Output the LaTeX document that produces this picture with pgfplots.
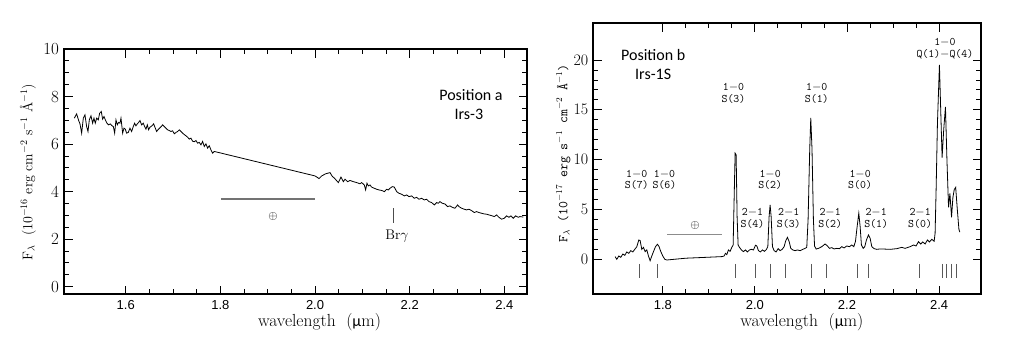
\documentclass[border=0pt]{standalone}
\usepackage{fontspec}
\usepackage{pgfplots}
\pgfplotsset{compat=1.18}
\newfontfamily\carlito{Carlito}
\newfontfamily\tsans{Liberation Sans}
\newcommand\fs[1]{\fontsize{#1}{#1}\selectfont}

\pgfplotsset{
  spec/.style={
    scale only axis, anchor=south west,
    axis line style={line width=2.2pt},
    tick align=inside,
    major tick length=8.5pt, minor tick length=5pt,
    every tick/.style={black, line width=0.9pt},
    minor x tick num=3,
    xticklabel style={font=\tsans\fs{13}, yshift=-3pt},
    yticklabel style={xshift=-1.5pt},
    xlabel={\fs{17.5}wavelength\ \ ({\carlito\fs{16}µ}m)},
    xlabel style={anchor=center},
    ylabel style={anchor=center},
  },
}

\begin{document}
\begin{tikzpicture}[x=1pt,y=1pt]
\path[use as bounding box] (0,0) rectangle (1009,354);

% ---- position a ----
\begin{axis}[spec, at={(64pt,60pt)}, width=463pt, height=245pt,
    xmin=1.4696, xmax=2.4478, ymin=-0.307, ymax=10,
    xtick={1.6,1.8,2.0,2.2,2.4}, xticklabels={1.6,1.8,2.0,2.2,2.4},
    ytick={0,2,4,6,8,10}, minor y tick num=3,
    yticklabels={\fs{17}0,\fs{17}2,\fs{17}4,\fs{17}6,\fs{17}8,\fs{17}10},
    xlabel style={at={(axis description cs:0.552,-0.114)}},
    ylabel={\fs{14}F$_\lambda$\ \ (10$^{-16}$ erg cm$^{-2}$ s$^{-1}$ Å$^{-1}$)},
    ylabel style={at={(axis description cs:-0.078,0.498)}},
  ]
\addplot[black, line width=0.8pt] coordinates {
(1.4914,7.09) (1.4963,7.27) (1.5006,6.99) (1.5034,6.85) (1.5069,6.46) (1.5104,7.09)
(1.5139,7.23) (1.5174,6.74) (1.5203,6.53) (1.5231,7.02) (1.5266,7.19) (1.5301,6.88)
(1.5329,7.09) (1.5357,6.88) (1.5386,7.09) (1.5421,7.02) (1.5449,7.30) (1.5484,7.37)
(1.5512,7.05) (1.5541,7.16) (1.5569,7.02) (1.5604,6.88) (1.5639,6.81) (1.5674,6.85)
(1.5710,6.77) (1.5738,6.74) (1.5766,6.46) (1.5794,7.02) (1.5822,6.81) (1.5850,6.91)
(1.5878,6.88) (1.5900,7.09) (1.5935,6.46) (1.5963,6.67) (1.5991,6.63) (1.6019,6.46)
(1.6054,6.49) (1.6090,6.67) (1.6125,6.53) (1.6160,6.74) (1.6188,6.88) (1.6216,6.77)
(1.6245,6.85) (1.6273,6.91) (1.6301,6.99) (1.6336,6.81) (1.6371,6.88) (1.6399,6.74)
(1.6428,6.63) (1.6456,6.81) (1.6484,6.60) (1.6512,6.71) (1.6554,6.77) (1.6590,6.85)
(1.6625,6.67) (1.6653,6.53) (1.6681,6.60) (1.6716,6.67) (1.6751,6.74) (1.6780,6.81)
(1.6815,6.74) (1.6850,6.67) (1.6885,6.60) (1.6920,6.57) (1.6956,6.53) (1.6991,6.56)
(1.7026,6.43) (1.7061,6.49) (1.7096,6.53) (1.7132,6.60) (1.7167,6.53) (1.7202,6.46)
(1.7237,6.40) (1.7272,6.35) (1.7308,6.29) (1.7343,6.21) (1.7378,6.25) (1.7413,6.12)
(1.7448,6.10) (1.7484,6.15) (1.7519,6.04) (1.7554,6.07) (1.7589,5.97) (1.7624,6.11)
(1.7660,5.90) (1.7695,6.01) (1.7730,5.83) (1.7765,5.93) (1.7800,5.76) (1.7835,5.62)
(1.7871,5.69)
(2.0000,4.66) (2.0084,4.55) (2.0140,4.66) (2.0224,4.75) (2.0316,4.80) (2.0365,4.64)
(2.0408,4.57) (2.0492,4.38) (2.0548,4.61) (2.0598,4.42) (2.0633,4.52) (2.0689,4.42)
(2.0738,4.47) (2.0809,4.42) (2.0879,4.38) (2.0950,4.33) (2.0985,4.38) (2.1041,4.28)
(2.1069,4.07) (2.1097,4.35) (2.1126,4.24) (2.1161,4.28) (2.1196,4.19) (2.1252,4.14)
(2.1302,4.10) (2.1351,4.07) (2.1407,4.05) (2.1464,4.00) (2.1513,4.10) (2.1548,4.07)
(2.1583,4.14) (2.1633,4.21) (2.1675,4.19) (2.1724,4.00) (2.1773,3.93) (2.1830,3.89)
(2.1886,3.82) (2.1935,3.86) (2.1985,3.79) (2.2041,3.82) (2.2097,3.72) (2.2146,3.76)
(2.2196,3.68) (2.2252,3.72) (2.2308,3.65) (2.2358,3.68) (2.2407,3.58) (2.2463,3.54)
(2.2520,3.44) (2.2569,3.54) (2.2604,3.51) (2.2639,3.58) (2.2688,3.51) (2.2745,3.48)
(2.2801,3.37) (2.2850,3.40) (2.2900,3.34) (2.2956,3.30) (2.3012,3.44) (2.3041,3.37)
(2.3097,3.30) (2.3153,3.26) (2.3202,3.23) (2.3252,3.26) (2.3308,3.20) (2.3364,3.12)
(2.3414,3.16) (2.3463,3.12) (2.3519,3.09) (2.3576,3.06) (2.3625,3.05) (2.3674,3.02)
(2.3730,2.99) (2.3787,2.95) (2.3836,3.02) (2.3885,2.92) (2.3942,2.84) (2.3998,2.88)
(2.4047,2.98) (2.4097,2.92) (2.4139,2.98) (2.4188,2.88) (2.4238,2.98) (2.4294,2.92)
(2.4329,2.95) (2.4400,2.93)};
% telluric band and Br gamma
\addplot[black!55, line width=1.8pt] coordinates {(1.801,3.69) (2.000,3.69)};
\addplot[black!70, line width=0.7pt] coordinates {(2.166,3.30) (2.166,2.70)};
\node[font=\fs{13}] at (axis cs:1.911,2.95) {$\oplus$};
\node[font=\fs{14}] at (axis cs:2.173,2.14) {Br$\gamma$};
\node[font=\carlito\fs{16}] at (axis cs:2.3295,8.07) {Position a};
\node[font=\carlito\fs{16}] at (axis cs:2.325,7.27) {Irs-3};
\end{axis}

% ---- position b ----
\begin{axis}[spec, at={(593.3pt,59.7pt)}, width=387.7pt, height=271pt,
    xmin=1.649, xmax=2.491, ymin=-3.55, ymax=23.7,
    xtick={1.8,2.0,2.2,2.4}, xticklabels={1.8,2.0,2.2,2.4},
    ytick={0,5,10,15,20}, minor y tick num=4,
    yticklabels={\fs{16}0,\fs{16}5,\fs{16}10,\fs{16}15,\fs{16}20},
    xlabel style={at={(axis description cs:0.538,-0.102)}},
    ylabel={\ttfamily\fs{13.5}F$_\lambda$\ (10$^{-17}$ erg s$^{-1}$ cm$^{-2}$ Å$^{-1}$)},
    ylabel style={at={(axis description cs:-0.077,0.52)}},
  ]
\addplot[black, line width=0.8pt] coordinates {
(1.6964,0.24) (1.7000,-0.03) (1.7044,0.30) (1.7087,0.17) (1.7131,0.50) (1.7174,0.37)
(1.7217,0.71) (1.7261,0.57) (1.7304,0.84) (1.7348,0.71) (1.7391,0.97) (1.7435,1.24)
(1.7478,1.91) (1.7507,1.85) (1.7543,0.97) (1.7579,1.17) (1.7616,0.74) (1.7652,0.91)
(1.7688,0.30) (1.7724,-0.17) (1.7760,0.30) (1.7797,0.74) (1.7840,1.24) (1.7883,1.48)
(1.7919,1.24) (1.7956,0.74) (1.7999,0.30) (1.8043,-0.03) (1.8086,-0.10) (1.8500,0.08)
(1.9000,0.18) (1.9280,0.24) (1.9331,0.30) (1.9360,0.57) (1.9389,0.44) (1.9425,0.91)
(1.9461,0.77) (1.9498,1.17) (1.9527,1.41) (1.9548,5.94) (1.9570,10.64) (1.9592,10.47)
(1.9613,4.26) (1.9635,1.41) (1.9664,1.17) (1.9707,0.91) (1.9751,0.74) (1.9794,0.91)
(1.9838,0.71) (1.9881,0.91) (1.9925,0.97) (1.9968,0.91) (2.0012,1.38) (2.0041,1.31)
(2.0077,0.84) (2.0120,0.71) (2.0164,0.91) (2.0207,0.77) (2.0251,0.97) (2.0280,1.24)
(2.0308,4.26) (2.0330,5.44) (2.0352,4.26) (2.0381,1.24) (2.0417,0.84) (2.0460,0.71)
(2.0504,1.04) (2.0547,0.84) (2.0591,0.97) (2.0634,1.24) (2.0670,1.85) (2.0706,2.18)
(2.0743,1.75) (2.0779,1.07) (2.0822,0.91) (2.0873,0.84) (2.0924,0.91) (2.0981,0.84)
(2.1040,0.97) (2.1090,1.07) (2.1126,1.17) (2.1155,4.00) (2.1190,11.00) (2.1213,14.20)
(2.1240,11.00) (2.1270,4.00) (2.1295,1.30) (2.1330,1.00) (2.1380,1.07) (2.1452,1.24)
(2.1524,1.51) (2.1575,1.31) (2.1619,1.07) (2.1669,1.14) (2.1720,1.01) (2.1778,1.07)
(2.1836,1.04) (2.1886,1.24) (2.1937,1.11) (2.1995,1.31) (2.2053,1.24) (2.2104,1.41)
(2.2147,1.24) (2.2183,1.75) (2.2220,3.26) (2.2256,4.60) (2.2285,3.26) (2.2313,1.41)
(2.2350,1.07) (2.2386,1.24) (2.2422,1.91) (2.2466,2.42) (2.2502,2.08) (2.2538,1.24)
(2.2589,1.04) (2.2646,0.97) (2.2719,1.01) (2.2800,1.00) (2.2936,0.97) (2.3081,1.04)
(2.3190,1.17) (2.3262,1.07) (2.3370,1.24) (2.3443,1.41) (2.3501,1.31) (2.3551,1.74)
(2.3602,1.51) (2.3646,1.71) (2.3696,1.51) (2.3747,1.91) (2.3790,1.71) (2.3841,1.98)
(2.3892,1.78) (2.3913,2.58) (2.3935,6.94) (2.3964,13.66) (2.4007,19.53) (2.4035,15.00)
(2.4065,10.20) (2.4100,13.00) (2.4138,15.30) (2.4170,10.00) (2.4205,5.20) (2.4235,6.60)
(2.4270,4.20) (2.4300,6.20) (2.4330,7.00) (2.4360,7.20) (2.4395,5.00) (2.4430,3.00)
(2.4450,2.70)};
% line positions
\addplot[black!65, line width=0.8pt, unbounded coords=jump] coordinates {
(1.749,-0.5) (1.749,-1.95) (1.749,nan)
(1.789,-0.5) (1.789,-1.95) (1.789,nan)
(1.958,-0.5) (1.958,-1.95) (1.958,nan)
(2.002,-0.5) (2.002,-1.95) (2.002,nan)
(2.034,-0.5) (2.034,-1.95) (2.034,nan)
(2.066,-0.5) (2.066,-1.95) (2.066,nan)
(2.122,-0.5) (2.122,-1.95) (2.122,nan)
(2.155,-0.5) (2.155,-1.95) (2.155,nan)
(2.223,-0.5) (2.223,-1.95) (2.223,nan)
(2.247,-0.5) (2.247,-1.95) (2.247,nan)
(2.357,-0.5) (2.357,-1.95) (2.357,nan)
(2.4076,-0.5) (2.4076,-1.95) (2.4076,nan)
(2.4163,-0.5) (2.4163,-1.95) (2.4163,nan)
(2.4263,-0.5) (2.4263,-1.95) (2.4263,nan)
(2.4371,-0.5) (2.4371,-1.95)};
\addplot[black!45, line width=0.7pt] coordinates {(1.810,2.52) (1.929,2.52)};
\node[font=\fs{13}] at (axis cs:1.870,3.32) {$\oplus$};
% line identifications
\begin{scope}[every node/.style={font=\ttfamily\fontsize{11.5}{11.7}\selectfont, align=center, inner sep=0pt}]
\node at (axis cs:1.7435,7.94) {1$-$0\\S(7)};
\node at (axis cs:1.8035,7.94) {1$-$0\\S(6)};
\node at (axis cs:1.9533,16.68) {1$-$0\\S(3)};
\node at (axis cs:1.9946,4.11) {2$-$1\\S(4)};
\node at (axis cs:2.0330,7.94) {1$-$0\\S(2)};
\node at (axis cs:2.0736,4.11) {2$-$1\\S(3)};
\node at (axis cs:2.1344,16.68) {1$-$0\\S(1)};
\node at (axis cs:2.1633,4.11) {2$-$1\\S(2)};
\node at (axis cs:2.2284,7.94) {1$-$0\\S(0)};
\node at (axis cs:2.2632,4.11) {2$-$1\\S(1)};
\node at (axis cs:2.3587,4.11) {2$-$1\\S(0)};
\node at (axis cs:2.4125,21.16) {1$-$0\\Q(1)$-$Q(4)};
\end{scope}
\node[font=\carlito\fs{16}] at (axis cs:1.779,20.54) {Position b};
\node[font=\carlito\fs{16}] at (axis cs:1.779,18.53) {Irs-1S};
\end{axis}
\end{tikzpicture}
\end{document}
